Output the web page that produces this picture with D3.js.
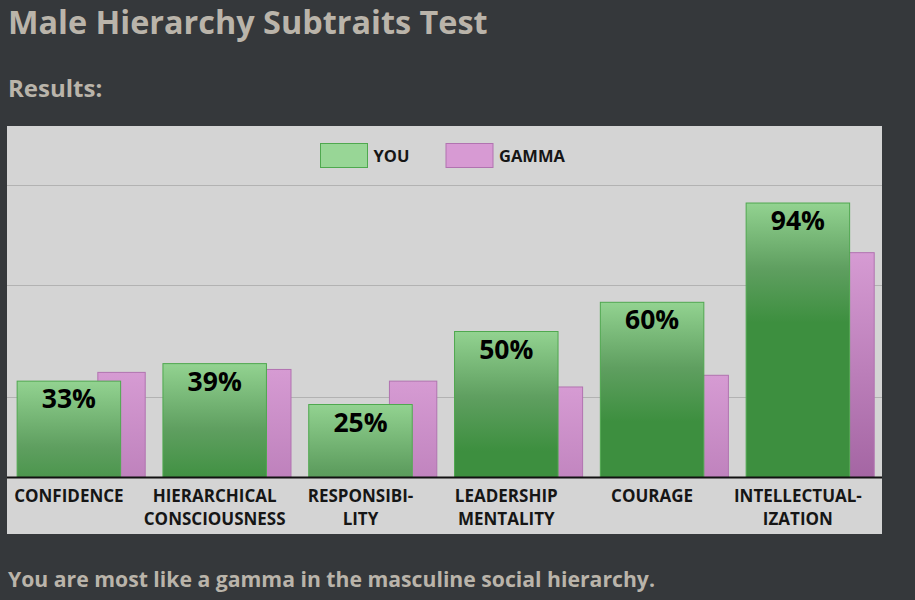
<!DOCTYPE html>
<html lang="en">
<head>
    <meta charset="UTF-8">
    <title>Male Hierarchy Subtraits Test</title>
    <style>
        body { margin:0; background:#35383b; }
        svg { display:block; font-family:"Open Sans", sans-serif; }
    </style>
</head>
<body>
    <svg width="915" height="600"></svg>
    <script src="https://d3js.org/d3.v7.min.js"></script>
    <script>
        // data
        var categories = ["CONFIDENCE", "HIERARCHICAL CONSCIOUSNESS", "RESPONSIBILITY", "LEADERSHIP MENTALITY", "COURAGE", "INTELLECTUALIZATION"];
        var labelLines = [["CONFIDENCE"], ["HIERARCHICAL", "CONSCIOUSNESS"], ["RESPONSIBI-", "LITY"], ["LEADERSHIP", "MENTALITY"], ["COURAGE"], ["INTELLECTUAL-", "IZATION"]];
        var youValues = [33, 39, 25, 50, 60, 94];
        var gammaValues = [36, 37, 33, 31, 35, 77];
        var seriesNames = ["YOU", "GAMMA"];
        var gridTicks = [27.3, 65.7, 100];

        var svg = d3.select("svg");
        svg.append("rect").attr("width", 915).attr("height", 600).attr("fill", "#35383b");

        // page texts
        svg.append("text").attr("x", 8).attr("y", 34)
            .attr("font-size", 32.4).attr("font-weight", "bold").attr("fill", "#bab4aa")
            .text("Male Hierarchy Subtraits Test");
        svg.append("text").attr("x", 8).attr("y", 97)
            .attr("font-size", 24).attr("font-weight", "bold").attr("fill", "#bab4aa")
            .text("Results:");
        svg.append("text").attr("x", 8).attr("y", 587)
            .attr("font-size", 21.2).attr("font-weight", "bold").attr("fill", "#bab4aa")
            .text("You are most like a gamma in the masculine social hierarchy.");

        // chart panel
        var panel = {left: 7, right: 882, top: 126, bottom: 534};
        svg.append("rect")
            .attr("x", panel.left).attr("y", panel.top)
            .attr("width", panel.right - panel.left).attr("height", panel.bottom - panel.top)
            .attr("fill", "#d4d4d4");

        var x = d3.scaleBand()
            .domain(categories)
            .range([8.4, 883.2])
            .paddingInner(0.113)
            .paddingOuter(0.0565);

        var y = d3.scaleLinear()
            .domain([0, 100])
            .range([477, 185]);

        var bw = x.bandwidth();
        var youW = bw * 0.808, gammaOff = bw * 0.624, gammaW = bw * 0.374;

        // grid lines
        svg.append("g").selectAll("line")
            .data(gridTicks)
            .join("line")
            .attr("x1", panel.left).attr("x2", panel.right)
            .attr("y1", function(d){ return Math.round(y(d)) + 0.5; })
            .attr("y2", function(d){ return Math.round(y(d)) + 0.5; })
            .attr("stroke", "#b2b2b2").attr("stroke-width", 1);

        // gradients, one per bar (the shading runs over a fixed pixel span from each bar top)
        var defs = svg.append("defs");
        categories.forEach(function(c, i){
            var gg = defs.append("linearGradient").attr("id", "gy" + i)
                .attr("gradientUnits", "userSpaceOnUse")
                .attr("x1", 0).attr("x2", 0)
                .attr("y1", y(youValues[i])).attr("y2", y(youValues[i]) + 120);
            gg.append("stop").attr("offset", 0).attr("stop-color", "#93d391");
            gg.append("stop").attr("offset", 0.55).attr("stop-color", "#5f9f60");
            gg.append("stop").attr("offset", 1).attr("stop-color", "#3d8f3f");

            var gm = defs.append("linearGradient").attr("id", "gm" + i)
                .attr("gradientUnits", "userSpaceOnUse")
                .attr("x1", 0).attr("x2", 0)
                .attr("y1", y(gammaValues[i])).attr("y2", y(gammaValues[i]) + 240);
            gm.append("stop").attr("offset", 0).attr("stop-color", "#d69bd3");
            gm.append("stop").attr("offset", 1).attr("stop-color", "#a162a0");
        });

        // gamma bars behind
        svg.append("g").selectAll("rect")
            .data(gammaValues)
            .join("rect")
            .attr("x", function(d, i){ return x(categories[i]) + gammaOff + 0.5; })
            .attr("y", function(d){ return y(d) + 0.5; })
            .attr("width", gammaW - 1)
            .attr("height", function(d){ return y(0) - y(d); })
            .attr("fill", function(d, i){ return "url(#gm" + i + ")"; })
            .attr("stroke", "#b173b0").attr("stroke-width", 1);

        // you bars in front
        svg.append("g").selectAll("rect")
            .data(youValues)
            .join("rect")
            .attr("x", function(d, i){ return x(categories[i]) + 0.5; })
            .attr("y", function(d){ return y(d) + 0.5; })
            .attr("width", youW - 1)
            .attr("height", function(d){ return y(0) - y(d); })
            .attr("fill", function(d, i){ return "url(#gy" + i + ")"; })
            .attr("stroke", "#4fa84f").attr("stroke-width", 1);

        // value labels
        svg.append("g").selectAll("text")
            .data(youValues)
            .join("text")
            .attr("x", function(d, i){ return x(categories[i]) + youW / 2; })
            .attr("y", function(d){ return y(d) + 27.5; })
            .attr("text-anchor", "middle")
            .attr("font-size", 26.5).attr("font-weight", "bold").attr("fill", "#000")
            .text(function(d){ return d + "%"; });

        // baseline
        svg.append("line")
            .attr("x1", panel.left).attr("x2", panel.right)
            .attr("y1", y(0) + 0.5).attr("y2", y(0) + 0.5)
            .attr("stroke", "#111").attr("stroke-width", 2);

        // category labels
        var lab = svg.append("g").selectAll("text")
            .data(categories)
            .join("text")
            .attr("text-anchor", "middle")
            .attr("font-size", 17).attr("font-weight", "bold").attr("fill", "#161616");
        lab.selectAll("tspan")
            .data(function(d, i){ return labelLines[i].map(function(s){ return {s: s, c: d}; }); })
            .join("tspan")
            .attr("x", function(d){ return x(d.c) + youW / 2; })
            .attr("y", function(d, j){ return 501.5 + j * 23.5; })
            .text(function(d){ return d.s; });

        // legend
        var legendX = [320, 445.5];
        var legendFill = ["#98d696", "#d79ad3"];
        var legendStroke = ["#4fa84f", "#b173b0"];
        var legend = svg.append("g").selectAll("g")
            .data(seriesNames)
            .join("g")
            .attr("transform", function(d, i){ return "translate(" + legendX[i] + ",143)"; });
        legend.append("rect")
            .attr("x", 0.5).attr("y", 0.5)
            .attr("width", 47).attr("height", 24)
            .attr("fill", function(d, i){ return legendFill[i]; })
            .attr("stroke", function(d, i){ return legendStroke[i]; });
        legend.append("text")
            .attr("x", 53.5).attr("y", 19)
            .attr("font-size", 16.5).attr("font-weight", "bold").attr("fill", "#161616")
            .text(function(d){ return d; });
    </script>
</body>
</html>
